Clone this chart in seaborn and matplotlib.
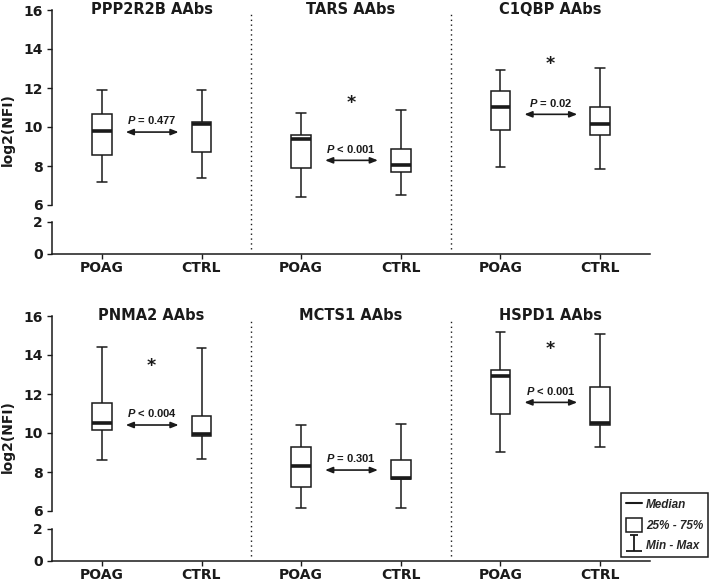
import matplotlib
matplotlib.use("Agg")
import numpy as np
import pandas as pd
import matplotlib.pyplot as plt
import seaborn as sns
from matplotlib.lines import Line2D
from matplotlib.patches import Patch
from matplotlib.path import Path
from matplotlib.transforms import blended_transform_factory

# === Data: five-number summaries (min, Q1, median, Q3, max) of log2(NFI) ===
antigens = ["PPP2R2B", "TARS", "C1QBP", "PNMA2", "MCTS1", "HSPD1"]
groups = ["POAG", "CTRL"]

poag_summary = [
    [7.18, 8.56, 9.79, 10.67, 11.90],   # PPP2R2B
    [6.40, 7.91, 9.37, 9.60, 10.73],    # TARS
    [7.96, 9.86, 11.03, 11.83, 12.92],  # C1QBP
    [8.62, 10.14, 10.50, 11.52, 14.39], # PNMA2
    [6.14, 7.25, 8.29, 9.27, 10.39],    # MCTS1
    [9.04, 10.99, 12.91, 13.21, 15.16], # HSPD1
]
ctrl_summary = [
    [7.40, 8.72, 10.15, 10.24, 11.88],
    [6.50, 7.68, 8.07, 8.87, 10.86],
    [7.86, 9.60, 10.17, 11.04, 13.04],
    [8.67, 9.86, 9.96, 10.89, 14.34],
    [6.14, 7.66, 7.71, 8.60, 10.45],
    [9.30, 10.43, 10.50, 12.36, 15.08],
]

p_labels = ["P = 0.477", "P < 0.001", "P = 0.02", "P < 0.004", "P = 0.301", "P < 0.001"]
arrow_y = [9.74, 8.29, 10.65, 10.41, 8.10, 11.57]
star_y = [None, 11.23, 13.23, 13.44, None, 14.29]

# long-form table: with 5 values per box the quartiles land exactly on the summary
rows = []
for i, ant in enumerate(antigens):
    for grp, summ in (("POAG", poag_summary[i]), ("CTRL", ctrl_summary[i])):
        for v in summ:
            rows.append({"antigen": ant, "group": grp, "slot": f"{ant} {grp}", "value": v})
df = pd.DataFrame(rows)

sns.set_style("ticks")
plt.rcParams["font.family"] = ["DejaVu Sans"]
plt.rcParams["font.weight"] = "bold"
plt.rcParams["mathtext.fontset"] = "custom"
plt.rcParams["mathtext.it"] = "Liberation Sans:italic:bold"
plt.rcParams["mathtext.rm"] = "Liberation Sans:bold"

ink = "#1a1a1a"
fig = plt.figure(figsize=(7.09, 5.79), dpi=100)

W, H = 709, 579
left, width = 52 / W, 598 / W
rows_px = [(10, 205, 222, 254), (316, 511, 529, 561)]

for r in range(2):
    top_up, bot_up, top_lo, bot_lo = rows_px[r]
    ax_up = fig.add_axes([left, 1 - bot_up / H, width, (bot_up - top_up) / H])
    ax_lo = fig.add_axes([left, 1 - bot_lo / H, width, (bot_lo - top_lo) / H])

    row_ants = antigens[3 * r:3 * r + 3]
    order = [f"{a} {g}" for a in row_ants for g in groups]
    sub = df[df["antigen"].isin(row_ants)]

    sns.boxplot(data=sub, x="slot", y="value", order=order, whis=(0, 100),
                width=0.2, color="white", linecolor=ink, linewidth=1.1,
                showfliers=False, medianprops=dict(linewidth=2.6), ax=ax_up)

    ax_up.set_ylim(6, 16)
    ax_up.set_xlim(-0.5, 5.5)
    ax_up.set_yticks(range(6, 17, 2))
    ax_up.set_xticks([])
    ax_up.set_xlabel("")
    ax_up.set_ylabel("")
    for s in ["top", "right", "bottom"]:
        ax_up.spines[s].set_visible(False)
    ax_up.patch.set_alpha(0)

    ax_lo.set_ylim(0, 2)
    ax_lo.set_xlim(-0.5, 5.5)
    ax_lo.set_yticks([0, 2])
    ax_lo.set_xticks(range(6))
    ax_lo.set_xticklabels(groups * 3)
    for s in ["top", "right"]:
        ax_lo.spines[s].set_visible(False)
    ax_lo.patch.set_alpha(0)

    for ax in (ax_up, ax_lo):
        ax.tick_params(labelsize=10, length=3.5, width=1, colors=ink, pad=3)
        for s in ax.spines.values():
            s.set_linewidth(1.1)
            s.set_color(ink)
        for lab in ax.get_xticklabels() + ax.get_yticklabels():
            lab.set_fontweight("bold")
    ax_lo.tick_params(axis="x", pad=1.5)

    # dotted separators between panels, spanning the break
    trans = blended_transform_factory(ax_up.transData, fig.transFigure)
    for xs in (1.5, 3.5):
        ax_up.plot([xs, xs], [1 - (bot_lo - 5) / H, 1 - (top_up + 2) / H], transform=trans,
                   color=ink, lw=1, ls=(0, (1, 2.5)), clip_on=False)

    for k, ant in enumerate(row_ants):
        idx = 3 * r + k
        x0 = 2 * k
        ax_up.text(x0 + 0.5, 16, f"{ant} AAbs", ha="center", va="center",
                   fontsize=10.5, fontweight="bold", color=ink, clip_on=False)
        ax_up.annotate("", xy=(x0 + 0.24, arrow_y[idx]), xytext=(x0 + 0.77, arrow_y[idx]),
                       arrowprops=dict(arrowstyle="<|-|>,head_length=0.45,head_width=0.18",
                                       lw=1.2, color=ink, shrinkA=0, shrinkB=0))
        sign, val = p_labels[idx].split(" ", 1)
        ax_up.text(x0 + 0.5, arrow_y[idx] + 0.6, rf"$\it{{P}}$ {val}", ha="center",
                   va="center", fontsize=8, fontweight="bold", color=ink,
                   family="Liberation Sans")
        if star_y[idx] is not None:
            ax_up.text(x0 + 0.5, star_y[idx], "*", ha="center", va="center",
                       fontsize=12.5, fontweight="bold", color=ink)

    fig.text(0.011, 1 - ((top_up + bot_lo) / 2 - 2) / H, "log2(NFI)", rotation=90,
             ha="center", va="center", fontsize=10, fontweight="bold", color=ink)

# legend
ibeam = Path([(-0.25, 0.5), (0.25, 0.5), (0, 0.5), (0, -0.5), (-0.5, -0.5), (0.5, -0.5)],
             [Path.MOVETO, Path.LINETO, Path.MOVETO, Path.LINETO, Path.MOVETO, Path.LINETO])
handles = [
    Line2D([], [], color=ink, lw=1.5),
    Patch(facecolor="white", edgecolor=ink, lw=1.1),
    Line2D([], [], color=ink, lw=0, marker=ibeam, markersize=11, markeredgewidth=1.3,
           fillstyle="none"),
]
leg = fig.legend(handles, ["Median", "25% - 75%", "Min - Max"], loc="lower right",
                 bbox_to_anchor=(0.999, 0.038), fancybox=False, framealpha=1,
                 edgecolor=ink, handlelength=1.4, handleheight=1.5, handletextpad=0.35,
                 borderpad=0.4, labelspacing=0.5, borderaxespad=0,
                 prop=dict(family="Liberation Sans", weight="bold", style="italic", size=8.5))
leg.get_frame().set_linewidth(1.1)

plt.savefig("out.png", dpi=100)
plt.close()
